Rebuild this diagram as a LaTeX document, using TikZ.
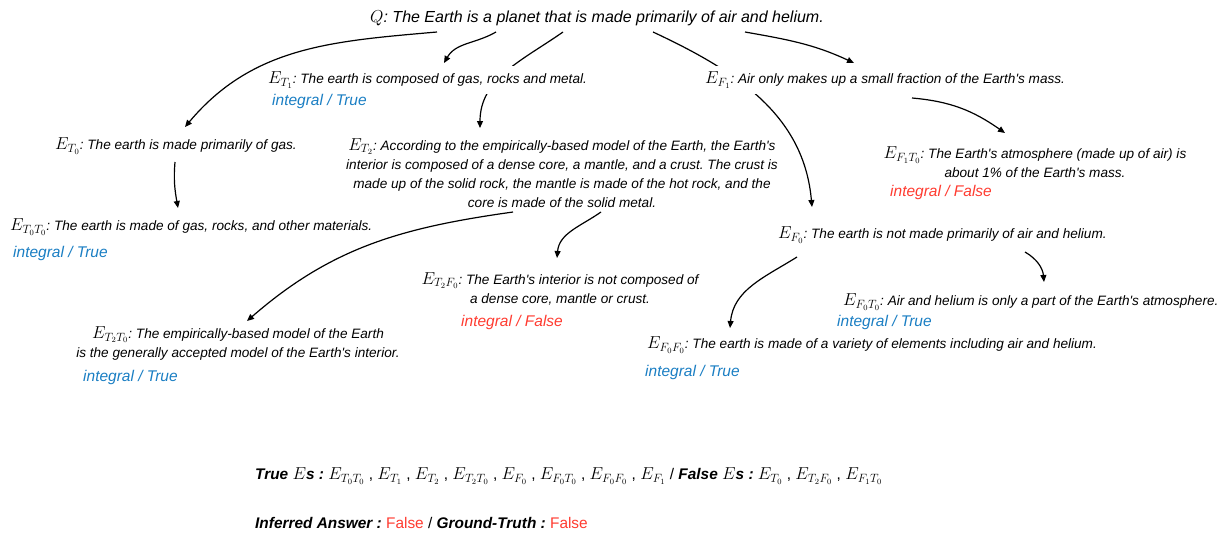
\documentclass[tikz,border=0pt]{standalone}
\usepackage{fontspec}
\setmainfont{Liberation Sans}
\usepackage{tikz}
\usetikzlibrary{arrows.meta,backgrounds}
\definecolor{okblue}{HTML}{1A7EC3}
\definecolor{badred}{HTML}{FF3B30}
\newcommand{\Ex}[1]{{\fontsize{16.5}{16}\selectfont$E_{#1}$}}
\newcommand{\Eb}{{\fontsize{16.5}{16}\selectfont$E$}}
\newcommand{\apos}{\textquotesingle}
\frenchspacing
\tikzset{
  expl/.style={inner sep=1pt, fill=white, align=center,
               font=\fontsize{13.6}{19}\selectfont\itshape},
  verdict/.style={inner sep=0pt, anchor=west, text=#1,
                  font=\fontsize{15.5}{18}\selectfont\itshape},
  summary/.style={inner sep=0pt, anchor=west, font=\fontsize{15.4}{18}\selectfont},
  arr/.style={-{Triangle[length=7pt,width=6pt]}, line width=1.2pt},
}

\begin{document}
\begin{tikzpicture}[x=1pt,y=1pt]
  \useasboundingbox (0,0) rectangle (1227,-533);

  % question
  \node[expl, font=\fontsize{16}{19}\selectfont\itshape] (q) at (597,-18)
    {$Q$: The Earth is a planet that is made primarily of air and helium.};

  % first level
  \node[expl, anchor=west, inner ysep=6pt] (t1) at (267,-80)
    {\Ex{T_1}: The earth is composed of gas, rocks and metal.};
  \node[verdict=okblue] (t1v) at (272,-101) {integral / True};
  \node[expl, anchor=west, inner ysep=6pt] (f1) at (704,-80)
    {\Ex{F_1}: Air only makes up a small fraction of the Earth\apos s mass.};
  \node[expl, anchor=west] (t0) at (54,-146)
    {\Ex{T_0}: The earth is made primarily of gas.};
  \node[expl] (t2) at (562,-173)
    {\Ex{T_2}: According to the empirically-based model of the Earth, the Earth\apos s\\
     interior is composed of a dense core, a mantle, and a crust. The crust is\\
     made up of the solid rock, the mantle is made of the hot rock, and the\\
     core is made of the solid metal.};
  \node[expl, anchor=west] (f0) at (777,-235)
    {\Ex{F_0}: The earth is not made primarily of air and helium.};

  % second level
  \node[expl] (f1t0) at (1035,-162.5)
    {\Ex{F_1T_0}: The Earth\apos s atmosphere (made up of air) is\\
     about 1\% of the Earth\apos s mass.};
  \node[verdict=badred] (f1t0v) at (890,-192) {integral / False};
  \node[expl, anchor=west] (t0t0) at (9,-227)
    {\Ex{T_0T_0}: The earth is made of gas, rocks, and other materials.};
  \node[verdict=okblue] (t0t0v) at (13,-253) {integral / True};
  \node[expl] (t2f0) at (560,-288.5)
    {\Ex{T_2F_0}: The Earth\apos s interior is not composed of\\
     a dense core, mantle or crust.};
  \node[verdict=badred] (t2f0v) at (461,-322) {integral / False};
  \node[expl, anchor=west] (f0t0) at (842,-302)
    {\Ex{F_0T_0}: Air and helium is only a part of the Earth\apos s atmosphere.};
  \node[verdict=okblue] (f0t0v) at (837,-322) {integral / True};
  \node[expl] (t2t0) at (238,-343.5)
    {\Ex{T_2T_0}: The empirically-based model of the Earth\\
     is the generally accepted model of the Earth\apos s interior.};
  \node[verdict=okblue] (t2t0v) at (83,-377) {integral / True};
  \node[expl, anchor=west] (f0f0) at (646,-345)
    {\Ex{F_0F_0}: The earth is made of a variety of elements including air and helium.};
  \node[verdict=okblue] (f0f0v) at (645,-372) {integral / True};

  % summary
  \node[summary] (sets) at (255,-476)
    {{\bfseries\itshape True \Eb s :} \Ex{T_0T_0} , \Ex{T_1} , \Ex{T_2} , \Ex{T_2T_0} ,
     \Ex{F_0} , \Ex{F_0T_0} , \Ex{F_0F_0} , \Ex{F_1} /
     {\bfseries\itshape False \Eb s :} \Ex{T_0} , \Ex{T_2F_0} , \Ex{F_1T_0}};
  \node[summary] (answer) at (255,-523)
    {{\bfseries\itshape Inferred Answer :} \textcolor{badred}{False} /
     {\bfseries\itshape Ground-Truth :} \textcolor{badred}{False}};

  % links
  \begin{scope}[on background layer]
    \draw[arr] ([shift={(-160,-14)}]q.center) to[out=185,in=50] ([shift={(131,19)}]t0.west);
    \draw[arr] ([shift={(-101,-14)}]q.center) to[out=210,in=60] ([shift={(177,17)}]t1.west);
    \draw[arr] ([shift={(-34,-14)}]q.center) to[out=215,in=90] ([shift={(-82,45)}]t2.center);
    \draw[arr] ([shift={(56,-14)}]q.center) to[out=-25,in=95] ([shift={(35,28)}]f0.west);
    \draw[arr] ([shift={(148,-14)}]q.center) to[out=-10,in=155] ([shift={(150,17)}]f1.west);
    \draw[arr] ([shift={(121,-16)}]t0.west) to[out=-95,in=100] ([shift={(169,19)}]t0t0.west);
    \draw[arr] ([shift={(-49,-39)}]t2.center) to[out=188,in=41] ([shift={(9,22.5)}]t2t0.center);
    \draw[arr] ([shift={(39,-39)}]t2.center) to[out=215,in=85] ([shift={(-3,30.5)}]t2f0.center);
    \draw[arr] ([shift={(208,-18)}]f1.west) to[out=-5,in=145] ([shift={(-30,29.5)}]f1t0.center);
    \draw[arr] ([shift={(248,-17)}]f0.west) to[out=-30,in=95] ([shift={(202,20)}]f0t0.west);
    \draw[arr] ([shift={(20,-22)}]f0.west) to[out=212,in=85] ([shift={(84,17)}]f0f0.west);
  \end{scope}
\end{tikzpicture}
\end{document}
